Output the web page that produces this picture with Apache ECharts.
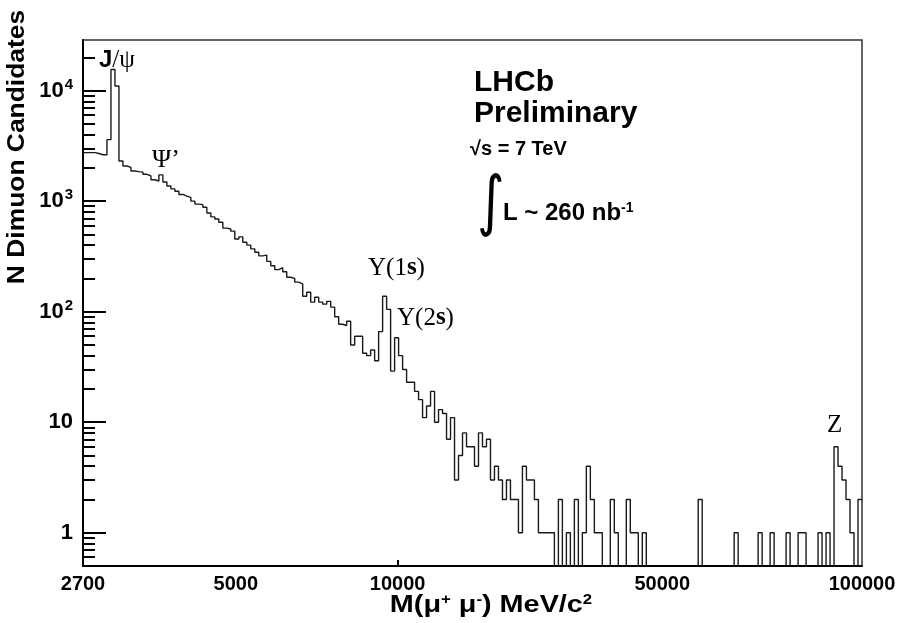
<!DOCTYPE html>
<html>
<head>
<meta charset="utf-8">
<script src="https://cdn.jsdelivr.net/npm/echarts@6/dist/echarts.min.js"></script>
<style>
  html, body { margin: 0; padding: 0; background: #fff; }
  #chart { width: 902px; height: 623px; }
</style>
</head>
<body>
<div id="chart"></div>
<script>
// 每个 bin 的候选事例数（对数等宽分箱，2700 ~ 100000 MeV/c2）
var binCounts = [
  2750, 2750, 2750, 2700, 2630, 2630, 3600, 15500, 11000, 2310,
  2080, 2020, 1875, 1850, 1830, 1750, 1690, 1560, 1520, 1730,
  1490, 1370, 1290, 1230, 1150, 1110, 1080, 1000, 940, 930,
  880, 780, 720, 690, 645, 570, 560, 535, 455, 475,
  425, 400, 370, 345, 320, 325, 285, 260, 240, 250,
  230, 205, 200, 185, 178, 138, 150, 122, 135, 122,
  117, 124, 110, 90, 77, 75, 82, 50, 60, 60,
  42, 40, 45, 36, 66, 138, 105, 29, 58, 40,
  30, 23, 23, 19, 16, 11, 14, 19, 10, 13,
  12, 7, 11, 3, 5, 8, 6, 6, 4, 8,
  6, 7, 3, 4, 3, 2, 3, 2, 2, 1,
  4, 3, 3, 2, 1, 1, 1, 1, 0, 2,
  0, 1, 0, 2, 0, 1, 4, 2, 1, 1,
  0, 0, 2, 1, 0, 0, 2, 1, 1, 0,
  1, 0, 0, 0, 0, 0, 0, 0, 0, 0,
  0, 0, 0, 0, 2, 0, 0, 0, 0, 0,
  0, 0, 0, 1, 0, 0, 0, 0, 0, 1,
  0, 0, 1, 0, 0, 0, 1, 0, 0, 1,
  1, 0, 0, 0, 1, 0, 1, 0, 6, 4,
  3, 2, 1, 0, 2
];
// x 轴刻度文字，以及它们所在的 bin 边界
var tickLabels = ['2700', '5000', '10000', '50000', '100000'];
var tickEdges = [0, 38.25, 78.75, 145, 195];
var tickMarks = [78.75];
// y 轴主刻度
var yMajor = [1, 10, 100, 1000, 10000];
var yMin = 0.5, yMax = 28700;

(function() {
  var myChart = echarts.init(document.getElementById('chart'));

  // 空 bin 画到坐标轴下面（会被裁剪）
  var stepData = binCounts.map(function (c, i) {
    return [i, c > 0 ? c : 0.1];
  });
  stepData.push([binCounts.length, binCounts[binCounts.length - 1] || 0.1]);

  // 对数次刻度 2..9
  var yMinor = [];
  [0.1, 1, 10, 100, 1000, 10000].forEach(function (d) {
    for (var k = 2; k <= 9; k++) {
      var v = +(d * k).toPrecision(3);
      if (v > yMin && v < yMax) yMinor.push(v);
    }
  });

  var sans = 'Liberation Sans, Arial, sans-serif';
  var serif = 'Liberation Serif, Times New Roman, serif';

  var option = {
    animation: false,
    backgroundColor: '#fff',
    grid: {
      left: 83, right: 40, top: 40, bottom: 57,
      outerBoundsMode: 'none',
      show: true,
      borderColor: '#333',
      borderWidth: 1.5
    },
    xAxis: {
      type: 'value',
      min: 0,
      max: binCounts.length,
      axisLine: { lineStyle: { color: '#000', width: 2 } },
      axisTick: {
        inside: true, length: 6,
        customValues: tickMarks,
        lineStyle: { color: '#000', width: 2 }
      },
      axisLabel: {
        customValues: tickEdges,
        margin: 8,
        color: '#000',
        fontFamily: sans,
        fontWeight: 'bold',
        fontSize: 20,
        formatter: function (v) {
          var k = tickEdges.indexOf(v);
          return k >= 0 ? tickLabels[k] : '';
        }
      },
      splitLine: { show: false }
    },
    yAxis: [
      {
        type: 'log',
        position: 'left',
        min: yMin,
        max: yMax,
        axisLine: { show: true, lineStyle: { color: '#000', width: 2 } },
        axisTick: {
          inside: true, length: 23,
          customValues: yMajor,
          lineStyle: { color: '#000', width: 2 }
        },
        axisLabel: {
          customValues: yMajor,
          margin: 10,
          color: '#000',
          fontFamily: sans,
          fontWeight: 'bold',
          fontSize: 22,
          formatter: function (v) {
            var e = Math.round(Math.log(v) / Math.LN10);
            if (e < 2) return '{b|' + Math.round(v) + '}';
            return '{b|10}{s|' + e + '}';
          },
          rich: {
            b: { fontSize: 22, fontWeight: 'bold', fontFamily: sans, color: '#000' },
            s: { fontSize: 15, fontWeight: 'bold', fontFamily: sans, color: '#000', verticalAlign: 'top', padding: [0, 0, 12, 1] }
          }
        },
        splitLine: { show: false }
      },
      {
        type: 'log',
        position: 'left',
        min: yMin,
        max: yMax,
        axisLine: { show: false },
        axisTick: {
          inside: true, length: 12,
          customValues: yMinor,
          lineStyle: { color: '#000', width: 2 }
        },
        axisLabel: { show: false },
        splitLine: { show: false }
      }
    ],
    series: [
      {
        name: 'N Dimuon Candidates',
        type: 'line',
        step: 'end',
        data: stepData,
        symbol: 'none',
        clip: true,
        lineStyle: { color: '#1a1a1a', width: 1.4 }
      }
    ],
    graphic: [
      // 坐标轴标题
      {
        type: 'text', x: 17, y: 147, rotation: Math.PI / 2, scaleX: 1.1,
        style: { text: 'N Dimuon Candidates', font: 'bold 24px ' + sans, fill: '#000',
          align: 'center', verticalAlign: 'middle', textAlign: 'center', textVerticalAlign: 'middle' }
      },
      {
        type: 'text', x: 491, y: 605, scaleX: 1.2,
        style: { text: '{a|M(μ}{s|+}{a| μ}{s|-}{a|) MeV/c}{s|2}', fill: '#000',
          align: 'center', verticalAlign: 'middle', textAlign: 'center', textVerticalAlign: 'middle',
          rich: {
            a: { font: 'bold 24px ' + sans, fill: '#000' },
            s: { font: 'bold 14px ' + sans, fill: '#000', verticalAlign: 'top' }
          } }
      },
      // 共振峰标注
      {
        type: 'text', x: 99, y: 60,
        style: { text: '{a|J}{b|/ψ}', fill: '#000', verticalAlign: 'middle', textVerticalAlign: 'middle',
          rich: { a: { font: 'bold 24px ' + sans, fill: '#000' }, b: { font: '25px ' + serif, fill: '#000' } } }
      },
      {
        type: 'text', x: 152, y: 160,
        style: { text: 'Ψ’', font: '26px ' + serif, fill: '#000', verticalAlign: 'middle', textVerticalAlign: 'middle' }
      },
      {
        type: 'text', x: 368, y: 268,
        style: { text: '{a|Υ(1}{b|s}{a|)}', fill: '#000', verticalAlign: 'middle', textVerticalAlign: 'middle',
          rich: { a: { font: '25px ' + serif, fill: '#000' }, b: { font: 'bold 25px ' + serif, fill: '#000' } } }
      },
      {
        type: 'text', x: 397, y: 318,
        style: { text: '{a|Υ(2}{b|s}{a|)}', fill: '#000', verticalAlign: 'middle', textVerticalAlign: 'middle',
          rich: { a: { font: '25px ' + serif, fill: '#000' }, b: { font: 'bold 25px ' + serif, fill: '#000' } } }
      },
      {
        type: 'text', x: 827, y: 425,
        style: { text: 'Z', font: '25px ' + serif, fill: '#000', verticalAlign: 'middle', textVerticalAlign: 'middle' }
      },
      // LHCb 说明文字
      {
        type: 'text', x: 474, y: 83,
        style: { text: 'LHCb', font: 'bold 30px ' + sans, fill: '#000', verticalAlign: 'middle', textVerticalAlign: 'middle' }
      },
      {
        type: 'text', x: 474, y: 114,
        style: { text: 'Preliminary', font: 'bold 30px ' + sans, fill: '#000', verticalAlign: 'middle', textVerticalAlign: 'middle' }
      },
      {
        type: 'text', x: 470, y: 149,
        style: { text: '√s = 7 TeV', font: 'bold 20px ' + sans, fill: '#000', verticalAlign: 'middle', textVerticalAlign: 'middle' }
      },
      {
        type: 'text', x: 477, y: 206, scaleX: 0.8,
        style: { text: '∫', font: '66px DejaVu Sans, sans-serif', fill: '#000', verticalAlign: 'middle', textVerticalAlign: 'middle' }
      },
      {
        type: 'text', x: 503, y: 213,
        style: { text: '{a|L ~ 260 nb}{s|-1}', fill: '#000', verticalAlign: 'middle', textVerticalAlign: 'middle',
          rich: { a: { font: 'bold 24px ' + sans, fill: '#000' }, s: { font: 'bold 14px ' + sans, fill: '#000', verticalAlign: 'top' } } }
      }
    ]
  };

  myChart.setOption(option);
  window.addEventListener('resize', function () {
    myChart.resize();
  });
})();
</script>
</body>
</html>
